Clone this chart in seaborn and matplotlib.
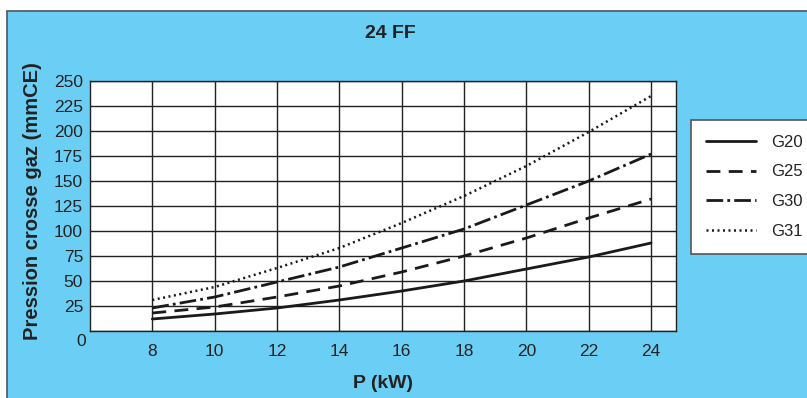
import matplotlib
matplotlib.use("Agg")
import matplotlib.pyplot as plt
import matplotlib.transforms as mtransforms
from matplotlib.patches import Rectangle
import seaborn as sns
import pandas as pd

# ---- data ----
power_kw = [8, 10, 12, 14, 16, 18, 20, 22, 24]
g20 = [12, 17, 23, 31, 40, 50, 62, 74, 88]
g25 = [18, 24, 34, 45, 59, 75, 93, 113, 132]
g30 = [23, 34, 49, 64, 83, 102, 126, 150, 177]
g31 = [31, 44, 63, 83, 108, 135, 165, 199, 235]
series_names = ["G20", "G25", "G30", "G31"]
x_ticks = [8, 10, 12, 14, 16, 18, 20, 22, 24]
y_ticks = [0, 25, 50, 75, 100, 125, 150, 175, 200, 225, 250]
title = "24 FF"
x_label = "P (kW)"
y_label = "Pression crosse gaz (mmCE)"

sns.set_theme(style="white")
plt.rcParams["font.family"] = ["Liberation Sans", "DejaVu Sans"]

W, H = 807, 398
fig = plt.figure(figsize=(W / 100, H / 100), dpi=100, facecolor="white")

# blue panel background
bg = Rectangle((7 / W, -0.01), 1.0, (398 - 11) / H + 0.01, transform=fig.transFigure,
               facecolor="#6bcff5", edgecolor="#4a5560", linewidth=1.2, zorder=-10)
fig.patches.append(bg)

ax = fig.add_axes([90 / W, (H - 331) / H, (676 - 90) / W, (331 - 81) / H])
ax.set_zorder(1)
ax.set_facecolor("white")

styles = {
    "G20": dict(linestyle="-", linewidth=2.0),
    "G25": dict(linestyle=(0, (5, 3)), linewidth=2.0),
    "G30": dict(linestyle=(0, (6, 1.5, 1, 1.5)), linewidth=2.0),
    "G31": dict(linestyle=(0, (0.8, 1.4)), linewidth=1.8),
}
values = {"G20": g20, "G25": g25, "G30": g30, "G31": g31}
for name in series_names:
    df = pd.DataFrame({"P": power_kw, "val": values[name]})
    sns.lineplot(data=df, x="P", y="val", ax=ax, color="#1a1a1a", label=name,
                 **styles[name])

ax.set_xlim(6, 24.8)
ax.set_ylim(0, 250)
ax.set_xticks(x_ticks)
ax.set_yticks(y_ticks)
ax.set_xticklabels([str(t) for t in x_ticks])
ax.set_yticklabels([str(t) for t in y_ticks])
ax.grid(True, color="#222222", linewidth=1.0)
ax.set_axisbelow(True)
for s in ax.spines.values():
    s.set_color("#222222")
    s.set_linewidth(1.0)
ax.tick_params(axis="both", length=0, labelsize=12.5, colors="#222222")
ax.tick_params(axis="y", pad=5)
ax.tick_params(axis="x", pad=9)

# shift the "0" label down/right like the reference
lbl0 = ax.get_yticklabels()[0]
lbl0.set_transform(lbl0.get_transform() +
                   mtransforms.ScaledTranslation(3 / 100, -9 / 100, fig.dpi_scale_trans))

ax.set_xlabel(x_label, fontsize=14, fontweight="bold", color="#222222", labelpad=12)
ax.set_ylabel(y_label, fontsize=14.5, fontweight="bold", color="#222222", labelpad=9)
ax.yaxis.set_label_coords(-0.082, 0.52)
fig.text(390 / W, 1 - 33 / H, title, ha="center", va="center", fontsize=14,
         fontweight="bold", color="#222222")

leg = ax.legend(loc="upper left", bbox_to_anchor=(691 / W, 1 - 120 / H),
                bbox_transform=fig.transFigure, frameon=True, fancybox=False,
                fontsize=12, handlelength=3.0, handletextpad=0.9,
                labelspacing=0.87, borderpad=0.9, borderaxespad=0)
leg.get_frame().set_edgecolor("#555555")
leg.get_frame().set_linewidth(1.2)
leg.get_frame().set_facecolor("white")
leg.get_frame().set_alpha(1)
for t in leg.get_texts():
    t.set_color("#222222")

fig.savefig("out.png", dpi=100, facecolor="white")
